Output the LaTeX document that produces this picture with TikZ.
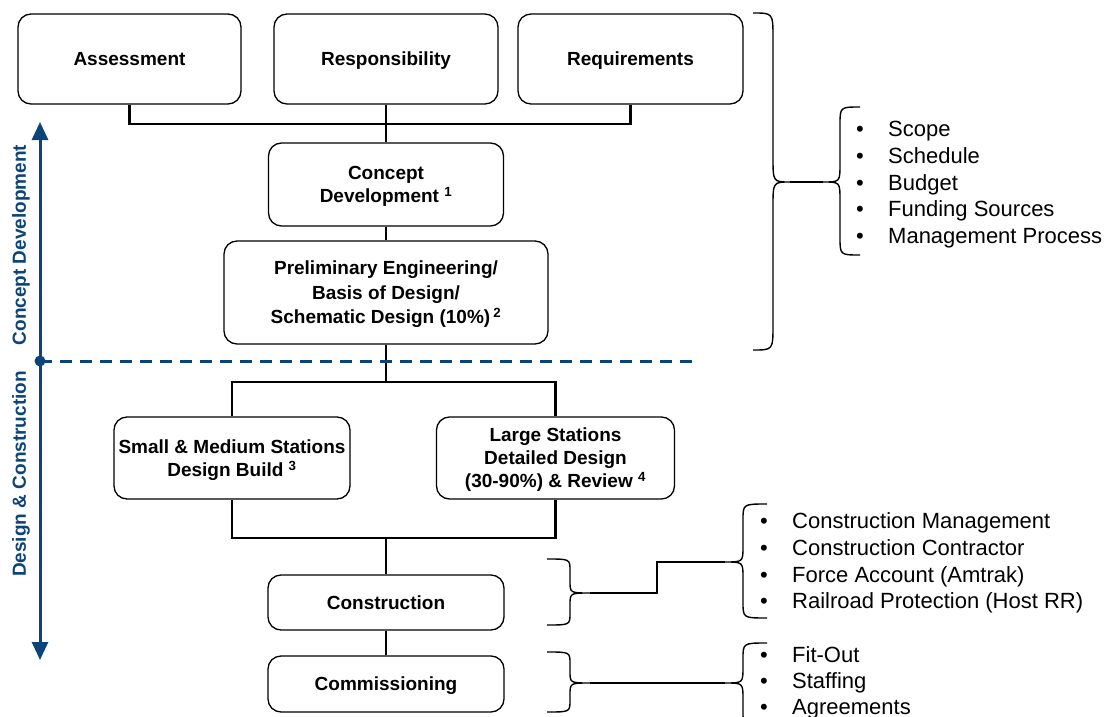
\documentclass[tikz,border=0pt]{standalone}
\usepackage{fontspec}
\setmainfont{Liberation Sans}
\usetikzlibrary{arrows.meta}
\definecolor{phaseblue}{RGB}{12,68,122}

% curly brace: tip x, spine x, cusp x, top y, middle y, bottom y, bend
\newcommand{\curly}[7]{%
  \draw[brace] (#1,#4) .. controls (#2,#4) .. (#2,#4+#7) -- (#2,#5-#7)
    .. controls (#2,#5) .. (#3,#5) .. controls (#2,#5) .. (#2,#5+#7)
    -- (#2,#6-#7) .. controls (#2,#6) .. (#1,#6);}

\tikzset{
  stage/.style={draw, rounded corners=13pt, line width=1.3pt, align=center,
    inner sep=0pt, text depth=-4pt, font=\fontsize{19}{23}\selectfont\bfseries},
  link/.style={line width=2.6pt},
  brace/.style={line width=1.4pt},
  item/.style={anchor=mid west, inner sep=0pt, font=\fontsize{22}{26}\selectfont},
  phase/.style={phaseblue, inner sep=0pt, font=\fontsize{19}{23}\selectfont\bfseries},
}

\begin{document}
\begin{tikzpicture}[x=1pt,y=-1pt]
  \useasboundingbox (0,0) rectangle (1109,717);

  % boxes
  \node[stage, minimum width=223pt, minimum height=90pt] (assess) at (129.5,59) {Assessment};
  \node[stage, minimum width=224pt, minimum height=90pt] (resp) at (386,59) {Responsibility};
  \node[stage, minimum width=225pt, minimum height=90pt] (req) at (630.5,59) {Requirements};
  \node[stage, minimum width=235pt, minimum height=83pt] (concept) at (386,184.5)
    {Concept\\Development \textsuperscript{1}};
  \node[stage, minimum width=324pt, minimum height=103pt, font=\fontsize{19}{24.5}\selectfont\bfseries]
    (prelim) at (386,292.5)
    {Preliminary Engineering/\\Basis of Design/\\Schematic Design (10\%)\,\textsuperscript{2}};
  \node[stage, minimum width=236pt, minimum height=82pt] (small) at (232,458)
    {Small \& Medium Stations\\Design Build \textsuperscript{3}};
  \node[stage, minimum width=238pt, minimum height=82pt] (large) at (555.5,458)
    {Large Stations\\Detailed Design\\(30-90\%) \& Review \textsuperscript{4}};
  \node[stage, minimum width=236pt, minimum height=55pt] (constr) at (386,602.5) {Construction};
  \node[stage, minimum width=236pt, minimum height=56pt] (commis) at (386,684) {Commissioning};

  % connectors
  \coordinate (topjoin) at (386,124);
  \coordinate (midjoin) at (386,382);
  \coordinate (lowjoin) at (386,538);
  \draw[link] (assess.south) |- (topjoin) -| (req.south);
  \draw[link] (resp.south) -- (concept.north);
  \draw[link] (concept.south) -- (prelim.north);
  \draw[link] (prelim.south) -- (midjoin);
  \draw[link] (small.north) |- (midjoin) -| (large.north);
  \draw[link] (small.south) |- (lowjoin) -| (large.south);
  \draw[link] (lowjoin) -- (constr.north);
  \draw[link] (constr.south) -- (commis.north);

  % phase axis
  \coordinate (axtop) at (40,122);
  \coordinate (axmid) at (40,361);
  \coordinate (axbot) at (40,660);
  \coordinate (dashend) at (695,361);
  \draw[phaseblue, line width=3pt, {Triangle[length=18pt,width=16pt]}-{Triangle[length=18pt,width=16pt]}]
    (axtop) -- (axbot);
  \draw[phaseblue, line width=3pt, dash pattern=on 12pt off 8pt] (axmid) -- (dashend);
  \fill[phaseblue] (axmid) circle (5.5pt);
  \node[phase, rotate=90] (cdlabel) at (21,245) {Concept Development};
  \node[phase, rotate=90] (dclabel) at (21,474) {Design \& Construction};

  % braces
  \curly{753}{773}{790}{13}{182}{350}{25}
  \curly{860}{840}{823}{107}{182}{255}{18}
  \curly{547}{570}{590}{559}{593}{625}{12}
  \curly{767}{743}{725}{504}{562}{618}{16}
  \curly{547}{570}{590}{652}{683}{712}{12}
  \curly{767}{743}{725}{643}{683}{727}{16}
  \coordinate (bigcusp) at (790,182);
  \coordinate (scopecusp) at (823,182);
  \coordinate (conin) at (590,593);
  \coordinate (conout) at (725,562);
  \coordinate (comin) at (590,683);
  \coordinate (comout) at (725,683);
  \draw[brace] (bigcusp) -- (scopecusp);
  \draw[brace] (conin) -- (657,593) |- (conout);
  \draw[brace] (comin) -- (comout);

  % lists
  \foreach \txt [count=\i from 0] in {Scope, Schedule, Budget, Funding Sources, Management Process}
    \node[item] (scope\i) at (856,134+26.7*\i) {\makebox[32pt][l]{\textbullet}\txt};
  \foreach \txt [count=\i from 0] in {Construction Management, Construction Contractor,
      Force Account (Amtrak), Railroad Protection (Host RR)}
    \node[item] (con\i) at (760,526+26.7*\i) {\makebox[32pt][l]{\textbullet}\txt};
  \foreach \txt [count=\i from 0] in {Fit-Out, Staffing, Agreements}
    \node[item] (com\i) at (760,660+26*\i) {\makebox[32pt][l]{\textbullet}\txt};
\end{tikzpicture}
\end{document}
